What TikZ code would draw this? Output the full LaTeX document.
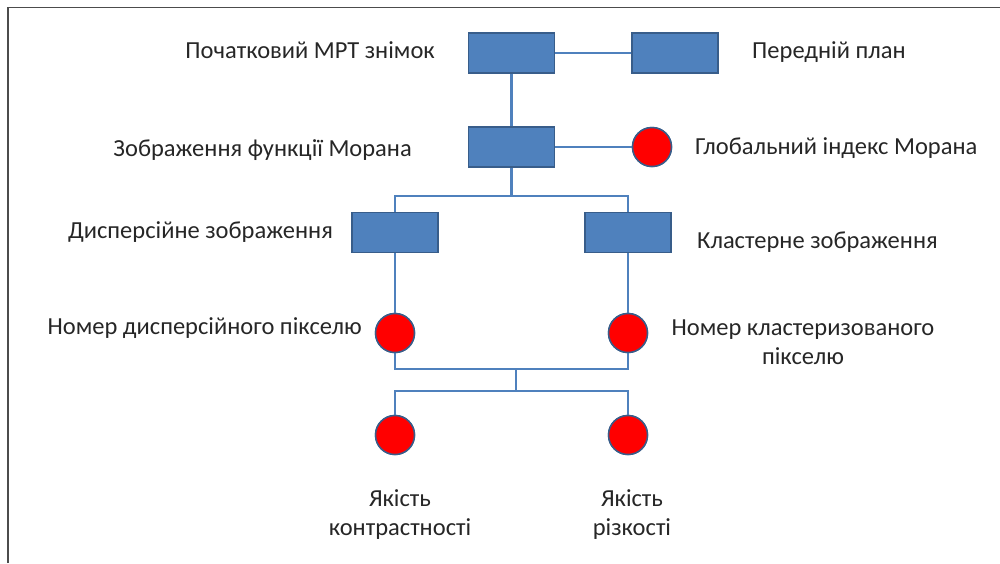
\documentclass[tikz,border=0pt]{standalone}
\usepackage{fontspec}
\setmainfont{Carlito}
\definecolor{boxfill}{HTML}{4F81BD}
\definecolor{boxedge}{HTML}{385D8A}
\definecolor{txt}{HTML}{262626}
\begin{document}
\begin{tikzpicture}[x=1pt,y=-1pt,
  blk/.style={draw=boxedge,line width=1.5pt,fill=boxfill,minimum width=86pt,minimum height=40pt,inner sep=0pt},
  dot/.style={circle,draw=boxedge,line width=1.5pt,fill=red,minimum size=39pt,inner sep=0pt},
  wire/.style={draw=boxfill,line width=2.8pt},
  lbl/.style={text=txt,font=\fontsize{24.5}{29}\selectfont,inner sep=0pt,align=center}]
\useasboundingbox (0,0) rectangle (1000,563);
\draw[gray!60!black,line width=1.5pt] (8,563) -- (8,7.5) -- (1000,7.5);
% nodes
\node[blk] (b1) at (511.5,53) {};
\node[blk] (b2) at (675,53) {};
\node[blk] (b3) at (511.5,147) {};
\node[dot] (g) at (652,147) {};
\node[blk] (b4) at (395,232.5) {};
\node[blk] (b5) at (628,232.5) {};
\node[dot] (c1) at (395,333) {};
\node[dot] (c2) at (628,333) {};
\node[dot] (c3) at (395,435) {};
\node[dot] (c4) at (628,435) {};
\coordinate (j1) at (511.5,196);
\coordinate (j2) at (516,369);
\coordinate (j3) at (516,391);
% wires
\draw[wire] (b1.east) -- (b2.west);
\draw[wire] (b1.south) -- (b3.north);
\draw[wire] (b3.east) -- (g.west);
\draw[wire] (b3.south) -- (j1);
\draw[wire] (b4.north) |- (j1) -| (b5.north);
\draw[wire] (b4.south) -- (c1.north);
\draw[wire] (b5.south) -- (c2.north);
\draw[wire] (c1.south) |- (j2) -| (c2.south);
\draw[wire] (j2) -- (j3);
\draw[wire] (c3.north) |- (j3) -| (c4.north);
% redraw nodes on top
\node[blk] at (b1) {};
\node[blk] at (b2) {};
\node[blk] at (b3) {};
\node[blk] at (b4) {};
\node[blk] at (b5) {};
\node[dot] at (g) {};
\node[dot] at (c1) {};
\node[dot] at (c2) {};
\node[dot] at (c3) {};
\node[dot] at (c4) {};
% labels
\node[lbl,anchor=east] (t1) at (435,50) {Початковий МРТ знімок};
\node[lbl,anchor=west] (t2) at (752,52) {Передній план};
\node[lbl,anchor=east] (t3) at (412,150) {Зображення функції Морана};
\node[lbl,anchor=west] (t4) at (695,148) {Глобальний індекс Морана};
\node[lbl,anchor=east] (t5) at (333,232) {Дисперсійне зображення};
\node[lbl,anchor=west] (t6) at (697,242) {Кластерне зображення};
\node[lbl,anchor=east] (t7) at (362,328) {Номер дисперсійного пікселю};
\node[lbl] (t8) at (803,342) {Номер кластеризованого\\пікселю};
\node[lbl] (t9) at (400,515) {Якість\\контрастності};
\node[lbl] (t10) at (632,515) {Якість\\різкості};
\end{tikzpicture}
\end{document}
